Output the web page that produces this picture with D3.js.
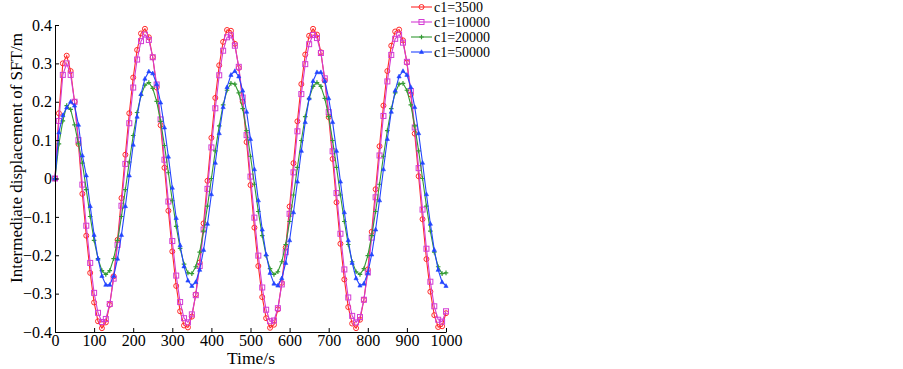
<!DOCTYPE html>
<html><head><meta charset="utf-8">
<script src="https://cdn.jsdelivr.net/npm/d3@7"></script>
<style>
body{margin:0;background:#fff}
text{font-family:"Liberation Serif","Times New Roman",serif;fill:#000}
</style>
</head><body>
<svg id="c" width="903" height="369"></svg>
<script>
// ---------- data ----------
const times=[0,10,20,30,40,50,60,70,80,90,100,110,120,130,140,150,160,170,180,190,200,
210,220,230,240,250,260,270,280,290,300,310,320,330,340,350,360,370,380,390,400,
410,420,430,440,450,460,470,480,490,500,510,520,530,540,550,560,570,580,590,600,
610,620,630,640,650,660,670,680,690,700,710,720,730,740,750,760,770,780,790,800,
810,820,830,840,850,860,870,880,890,900,910,920,930,940,950,960,970,980,990,1000];

const c3500=[0,0.17,0.30,0.32,0.28,0.20,0.09,
-0.040,-0.149,-0.246,-0.323,-0.372,-0.390,
-0.375,-0.329,-0.255,-0.160,-0.051,0.062,
0.170,0.263,0.335,0.378,0.390,0.368,
0.316,0.237,0.139,0.028,-0.084,-0.190,
-0.280,-0.346,-0.383,-0.388,-0.360,-0.302,
-0.219,-0.117,-0.006,0.106,0.210,0.295,
0.356,0.387,0.385,0.351,0.288,0.200,
0.095,-0.017,-0.128,-0.228,-0.309,-0.364,
-0.389,-0.381,-0.341,-0.272,-0.180,-0.073,
0.040,0.149,0.246,0.323,0.372,0.390,
0.375,0.329,0.255,0.160,0.051,-0.062,
-0.170,-0.263,-0.335,-0.378,-0.390,-0.368,
-0.316,-0.237,-0.139,-0.028,0.084,0.190,
0.280,0.346,0.383,0.388,0.360,0.302,
0.219,0.117,0.006,-0.106,-0.210,-0.295,
-0.356,-0.387,-0.385,-0.351];

const c10000=[0,0.15,0.27,0.30,0.27,0.20,0.10,
-0.016,-0.123,-0.220,-0.298,-0.350,-0.374,
-0.366,-0.327,-0.261,-0.173,-0.071,0.038,
0.144,0.237,0.310,0.358,0.375,0.361,
0.316,0.245,0.154,0.049,-0.060,-0.163,
-0.253,-0.322,-0.364,-0.375,-0.354,-0.304,
-0.228,-0.133,-0.027,0.081,0.183,0.269,
0.333,0.368,0.373,0.346,0.291,0.211,
0.113,0.005,-0.102,-0.201,-0.284,-0.342,
-0.372,-0.370,-0.338,-0.276,-0.192,-0.092,
0.016,0.123,0.220,0.298,0.350,0.374,
0.366,0.327,0.261,0.173,0.071,-0.038,
-0.144,-0.237,-0.310,-0.358,-0.375,-0.361,
-0.316,-0.245,-0.154,-0.049,0.060,0.163,
0.253,0.322,0.364,0.375,0.354,0.304,
0.228,0.133,0.027,-0.081,-0.183,-0.269,
-0.333,-0.368,-0.373,-0.346];

const c20000=[0,0.09,0.15,0.19,0.18,0.14,0.09,
0.040,-0.029,-0.099,-0.161,-0.209,-0.240,
-0.250,-0.240,-0.209,-0.161,-0.099,-0.029,
0.043,0.112,0.172,0.217,0.243,0.250,
0.235,0.201,0.149,0.086,0.015,-0.058,
-0.125,-0.182,-0.223,-0.246,-0.248,-0.230,
-0.192,-0.137,-0.072,0.000,0.072,0.137,
0.192,0.230,0.248,0.246,0.223,0.182,
0.125,0.058,-0.015,-0.086,-0.149,-0.201,
-0.235,-0.250,-0.243,-0.217,-0.172,-0.112,
-0.043,0.029,0.099,0.161,0.209,0.240,
0.250,0.240,0.209,0.161,0.099,0.029,
-0.043,-0.112,-0.172,-0.217,-0.243,-0.250,
-0.235,-0.201,-0.149,-0.086,-0.015,0.058,
0.125,0.182,0.223,0.246,0.248,0.230,
0.192,0.137,0.072,0.000,-0.072,-0.137,
-0.192,-0.230,-0.248,-0.246];

const c50000=[0,0.12,0.165,0.185,0.20,0.19,0.14,
0.06,0.008,-0.072,-0.147,-0.209,-0.254,
-0.277,-0.277,-0.254,-0.209,-0.147,-0.072,
0.008,0.088,0.161,0.220,0.260,0.279,
0.274,0.246,0.198,0.133,0.057,-0.024,
-0.103,-0.174,-0.229,-0.266,-0.280,-0.270,
-0.238,-0.186,-0.118,-0.041,0.041,0.118,
0.186,0.238,0.270,0.280,0.266,0.229,
0.174,0.103,0.024,-0.057,-0.133,-0.198,
-0.246,-0.274,-0.279,-0.260,-0.220,-0.161,
-0.088,-0.008,0.072,0.147,0.209,0.254,
0.277,0.277,0.254,0.209,0.147,0.072,
-0.008,-0.088,-0.161,-0.220,-0.260,-0.279,
-0.274,-0.246,-0.198,-0.133,-0.057,0.024,
0.103,0.174,0.229,0.266,0.280,0.270,
0.238,0.186,0.118,0.041,-0.041,-0.118,
-0.186,-0.238,-0.270,-0.280];

const seriesNames=["c1=3500","c1=10000","c1=20000","c1=50000"];
const xTickValues=[0,100,200,300,400,500,600,700,800,900,1000];
const yTickValues=[-0.4,-0.3,-0.2,-0.1,0,0.1,0.2,0.3,0.4];
const xTitle="Time/s";
const yTitle="Intermediate displacement of SFT/m";

// ---------- styles ----------
const colors=["#ff2a2a","#d43cd4","#339a33","#2244ff"];
const markers=["circle","square","plus","triangle"];
const seriesData=[c3500,c10000,c20000,c50000];

const svg=d3.select("#c");
const x=d3.scaleLinear().domain([0,1000]).range([55,446]);
const y=d3.scaleLinear().domain([-0.4,0.4]).range([332,25]);

function drawMarker(g,type,color){
  if(type==="circle"){
    g.append("circle").attr("r",2.5).attr("fill","none").attr("stroke",color).attr("stroke-width",1);
  }else if(type==="square"){
    g.append("rect").attr("x",-2.5).attr("y",-2.5).attr("width",5).attr("height",5)
      .attr("fill","none").attr("stroke",color).attr("stroke-width",1);
  }else if(type==="plus"){
    g.append("path").attr("d","M-2.3,0H2.3M0,-2.3V2.3").attr("stroke",color).attr("stroke-width",1.2);
  }else{
    g.append("path").attr("d","M0,-2.3L2.1,1.5L-2.1,1.5Z").attr("fill",color).attr("stroke",color).attr("stroke-width",0.6);
  }
}

const line=d3.line().x(d=>x(d[0])).y(d=>y(d[1]));
seriesData.forEach((vals,i)=>{
  const n=Math.min(times.length,vals.length);
  const pts=d3.range(n).map(k=>[times[k],vals[k]]);
  const g=svg.append("g");
  g.append("path").datum(pts).attr("d",line).attr("fill","none")
    .attr("stroke",colors[i]).attr("stroke-width",1.1);
  pts.forEach(p=>{
    const mg=g.append("g").attr("transform",`translate(${x(p[0])},${y(p[1])})`);
    drawMarker(mg,markers[i],colors[i]);
  });
});

// ---------- axes ----------
const fmtY=d=>d===0?"0":(d<0?"\u2212":"")+Math.abs(d).toFixed(1);
const ax=svg.append("g").attr("transform","translate(0,332)")
  .call(d3.axisBottom(x).tickValues(xTickValues).tickFormat(d3.format("d"))
    .tickSizeInner(-4).tickSizeOuter(0).tickPadding(3));
const ay=svg.append("g").attr("transform","translate(55,0)")
  .call(d3.axisLeft(y).tickValues(yTickValues).tickFormat(fmtY)
    .tickSizeInner(-4).tickSizeOuter(0).tickPadding(3));
[ax,ay].forEach(a=>{
  a.selectAll("text").style("font-family","Liberation Serif").style("font-size","16px").attr("fill","#000");
  a.selectAll("line,path").attr("stroke","#000").attr("stroke-width",1);
});

svg.append("text").attr("x",251).attr("y",364).attr("text-anchor","middle")
  .style("font-size","17.5px").text(xTitle);
svg.append("text").attr("transform","translate(22,158) rotate(-90)").attr("text-anchor","middle")
  .style("font-size","17px").text(yTitle);

// ---------- legend ----------
seriesNames.forEach((nm,i)=>{
  const yy=7+15*i;
  const g=svg.append("g");
  g.append("line").attr("x1",411).attr("x2",432).attr("y1",yy).attr("y2",yy)
    .attr("stroke",colors[i]).attr("stroke-width",1.1);
  const mg=g.append("g").attr("transform",`translate(421.5,${yy})`);
  drawMarker(mg,markers[i],colors[i]);
  g.append("text").attr("x",434).attr("y",yy+4.5).style("font-size","14px").text(nm);
});
</script>
</body></html>
